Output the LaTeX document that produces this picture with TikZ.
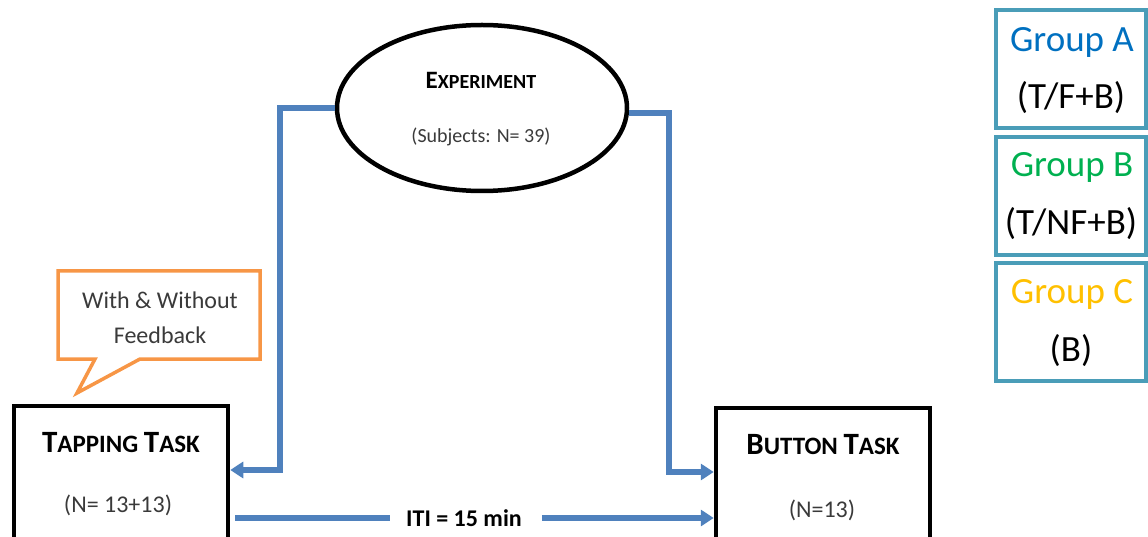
\documentclass[tikz,border=0pt]{standalone}
\usepackage{fontspec}
\setmainfont{Carlito}
\usetikzlibrary{arrows.meta,shapes.geometric}
\definecolor{connblue}{HTML}{4F81BD}
\definecolor{calloutorange}{HTML}{F79646}
\definecolor{groupteal}{HTML}{4A9DB8}
\definecolor{grpA}{HTML}{0070C0}
\definecolor{grpB}{HTML}{00B050}
\definecolor{grpC}{HTML}{FFC000}
\definecolor{txtgray}{HTML}{3A3A3A}
\newcommand\fsz[1]{\fontsize{#1}{#1}\selectfont}
\begin{document}
\begin{tikzpicture}[x=1pt,y=-1pt,
  conn/.style={draw=connblue,line width=5.5pt},
  arr/.style={conn,-{Triangle[length=13pt,width=16pt]}},
  taskbox/.style={draw=black,line width=4.5pt,minimum width=214pt,minimum height=160pt,inner sep=0pt},
  grpbox/.style={draw=groupteal,line width=4.5pt,minimum width=150pt,minimum height=118pt,inner sep=0pt},
  plain/.style={inner sep=0pt,anchor=center},
]
\useasboundingbox (0,0) rectangle (1148,537);
\clip (0,0) rectangle (1148,537);

% experiment ellipse
\node[ellipse,draw=black,line width=4.5pt,minimum width=290pt,minimum height=166pt,inner sep=0pt] (exp) at (482,108) {};
\node[plain] (expT) at (481,80) {\bfseries\fsz{25}E\fsz{20}XPERIMENT};
\node[plain,text=txtgray] (expN) at (481,137) {\fsz{20}(Subjects: N= 39)};

% task boxes
\node[taskbox] (tap) at (121,486) {};
\node[plain] (tapT) at (121,443) {\bfseries\fsz{31}T\fsz{25}APPING \fsz{31}T\fsz{25}ASK};
\node[plain,text=txtgray] (tapN) at (118,505) {\fsz{24}(N= 13+13)};

\node[taskbox] (btn) at (823,488) {};
\node[plain] (btnT) at (823,445) {\bfseries\fsz{31}B\fsz{25}UTTON \fsz{31}T\fsz{25}ASK};
\node[plain,text=txtgray] (btnN) at (822,510) {\fsz{24}(N=13)};

% connectors from the ellipse
\coordinate (lc) at (280,470);
\coordinate (rc) at (669,472);
\draw[arr] (exp.west) -| (lc) -- (tap.east |- lc);
\draw[arr] ([yshift=-5pt]exp.east) -| (rc) -- (btn.west |- rc);

% ITI arrow
\node[plain] (iti) at (464,518) {\bfseries\fsz{24}ITI = 15 min};
\coordinate (itiy) at (0,518);
\draw[conn] (tap.east |- itiy) ++(5,0) -- ([xshift=-16pt]iti.west);
\draw[arr] ([xshift=20pt]iti.east) -- (btn.west |- itiy);

% callout
\node[plain,text=txtgray,align=center,font=\fsz{24}] (call) at (160,318) {With \& Without\\[11pt]Feedback};
\draw[draw=calloutorange,line width=3.5pt,line join=miter]
  (58,271) -- (260,271) -- (260,359) -- (140,359) -- (77,393) -- (95,359) -- (58,359) -- cycle;

% group boxes
\node[grpbox] (ga) at (1071,69) {};
\node[grpbox] (gb) at (1071,196) {};
\node[grpbox] (gc) at (1071,322) {};
\node[plain,text=grpA] (gaT) at (1072,42) {\fsz{37}Group A};
\node[plain] (gaN) at (1071,98) {\fsz{37}(T/F+B)};
\node[plain,text=grpB] (gbT) at (1072,167) {\fsz{37}Group B};
\node[plain] (gbN) at (1071,224) {\fsz{37}(T/NF+B)};
\node[plain,text=grpC] (gcT) at (1072,294) {\fsz{37}Group C};
\node[plain] (gcN) at (1071,351) {\fsz{37}(B)};
\end{tikzpicture}
\end{document}
